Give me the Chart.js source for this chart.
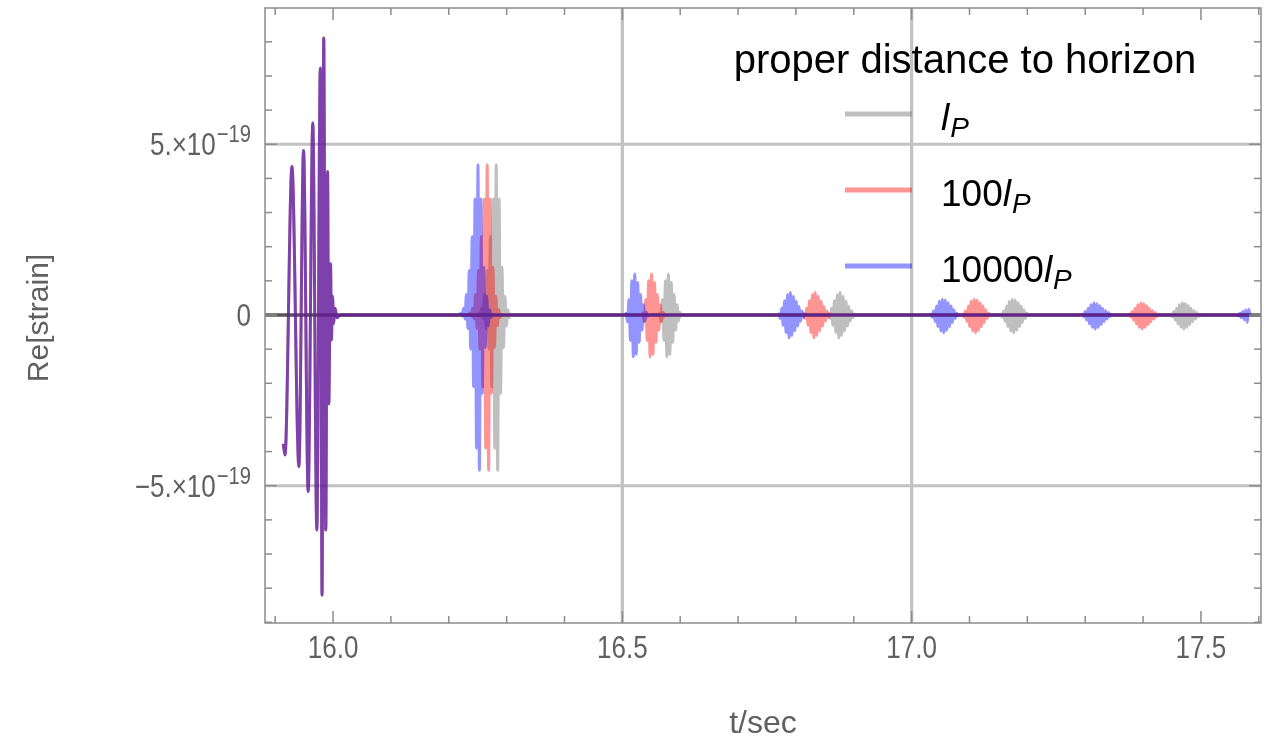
<!DOCTYPE html>
<html>
<head>
<meta charset="utf-8">
<title>Echo waveforms</title>
<script src="https://cdn.jsdelivr.net/npm/chart.js@4.4.1/dist/chart.umd.min.js"></script>
<style>
  html, body { margin: 0; padding: 0; background: #fff; }
  #wrap { width: 1278px; height: 744px; }
</style>
</head>
<body>
<div id="wrap"><canvas id="chart" width="1278" height="744"></canvas></div>
<script>
// strain values are in units of 1e-19
const X_MIN = 15.8824, X_MAX = 17.6038;
const Y_MIN = -9.02, Y_MAX = 8.99;

// merger + ringdown, identical for all three horizon distances
const mergerTimes = [15.914, 15.917, 15.929, 15.941, 15.949, 15.957, 15.965, 15.972, 15.978, 15.981,
  15.9839, 15.9874, 15.9905, 15.9926, 15.9957, 15.9971, 15.9991, 16.0009, 16.0035, 16.0069, 16.0121];
const mergerStrain = [-3.77, -4.1, 4.35, -4.44, 4.82, -5.17, 5.62, -6.3, 7.23, -8.2,
  8.11, -6.3, 4.2, -2.6, 1.5, -0.73, 0.55, -0.25, 0.2, -0.08, 0];

// echo samples, one every SAMPLE_DT seconds, starting echoShapeFirst[i] samples before the peak
const SAMPLE_DT = 0.0025;
const echoShapeFirst = [-12, -5, -7, -8, -8, -7];
const echoShape1 = [0.05, -0.03, 0.2, -0.12, 0.6, -0.4, 1.3, -1.0, 2.3, -2.1, 3.4, -3.9,
  4.4, -4.55, 3.4, -2.3, 1.4, -0.95, 0.55, -0.32, 0.15, -0.07, 0.02];
const echoShape2 = [0.05, -0.2, 0.45, -0.75, 1.0, -1.22, 1.2, -1.15, 0.95, -0.8, 0.6, -0.45,
  0.3, -0.18, 0.08, -0.03];
const echoShape3 = [0.03, -0.1, 0.2, -0.3, 0.42, -0.52, 0.6, -0.67, 0.66, -0.6, 0.55, -0.46,
  0.4, -0.32, 0.25, -0.18, 0.12, -0.07, 0.03];
const echoShape4 = [0.02, -0.06, 0.12, -0.19, 0.26, -0.34, 0.4, -0.47, 0.46, -0.52, 0.44, -0.45,
  0.36, -0.34, 0.26, -0.22, 0.15, -0.1, 0.05, -0.02];
const echoShape5 = [0.02, -0.05, 0.1, -0.15, 0.2, -0.26, 0.3, -0.36, 0.35, -0.41, 0.33, -0.36,
  0.27, -0.28, 0.2, -0.2, 0.13, -0.12, 0.07, -0.05, 0.02];
const echoShape6 = [0.01, -0.03, 0.05, -0.08, 0.1, -0.14, 0.15, -0.22, 0.17];
const echoShapes = [echoShape1, echoShape2, echoShape3, echoShape4, echoShape5, echoShape6];

// echo peak times (s) per horizon distance
const echoPeaksGrey = [16.282, 16.577, 16.874, 17.174, 17.468];
const echoPeaksRed = [16.2664, 16.548, 16.831, 17.108, 17.396];
const echoPeaksBlue = [16.2505, 16.519, 16.788, 17.053, 17.315, 17.58];
const END_T = 17.5825;

// axes
const xMajorTicks = [16.0, 16.5, 17.0, 17.5];
const xTickLabels = ['16.0', '16.5', '17.0', '17.5'];
const xMinorTicks = [15.9, 16.1, 16.2, 16.3, 16.4, 16.6, 16.7, 16.8, 16.9, 17.1, 17.2, 17.3, 17.4, 17.6];
const yMajorTicks = [5, 0, -5];
const yTickMantissa = ['5.', '0', '\u22125.'];
const Y_EXPONENT = '\u221219';
const yMinorTicks = [-9, -8, -7, -6, -4, -3, -2, -1, 1, 2, 3, 4, 6, 7, 8];
const xGridLines = [16.5, 17.0];
const yGridLines = [-5, 5];

// legend
const LEGEND_TITLE = 'proper distance to horizon';
const legendPrefixes = ['', '100', '10000'];
const seriesColors = ['rgba(128,128,128,0.5)', 'rgba(255,0,0,0.42)', 'rgba(0,0,255,0.42)'];

const FONT = '"Liberation Sans", Arial, sans-serif';
const TICK_FONT = '31px ' + FONT;
const EXP_FONT = '24px ' + FONT;
const SQUEEZE = 0.84;   // tick labels are set a little narrow

function buildSeries(peaks) {
  const pts = mergerTimes.map((t, i) => ({ x: t, y: mergerStrain[i] }));
  peaks.forEach((peak, e) => {
    const first = echoShapeFirst[e];
    const shape = echoShapes[e];
    pts.push({ x: peak + (first - 1) * SAMPLE_DT, y: 0 });
    shape.forEach((v, j) => pts.push({ x: peak + (first + j) * SAMPLE_DT, y: v }));
    pts.push({ x: peak + (first + shape.length) * SAMPLE_DT, y: 0 });
  });
  if (pts[pts.length - 1].x < END_T) pts.push({ x: END_T, y: 0 });
  return pts;
}

function line(ctx, x1, y1, x2, y2) {
  ctx.beginPath();
  ctx.moveTo(x1, y1);
  ctx.lineTo(x2, y2);
  ctx.stroke();
}

// narrow text: x is the left edge
function narrowText(ctx, str, x, y) {
  ctx.save();
  ctx.translate(x, y);
  ctx.scale(SQUEEZE, 1);
  ctx.textAlign = 'left';
  ctx.fillText(str, 0, 0);
  ctx.restore();
}
function narrowWidth(ctx, str) {
  return ctx.measureText(str).width * SQUEEZE;
}

const frameTicks = {
  id: 'frameTicks',
  beforeDatasetsDraw(chart) {
    const { ctx, chartArea: a, scales: { x, y } } = chart;
    ctx.save();
    ctx.strokeStyle = 'rgb(194,194,194)';
    ctx.lineWidth = 3.2;
    xGridLines.forEach(v => { const px = x.getPixelForValue(v); line(ctx, px, a.top, px, a.bottom); });
    yGridLines.forEach(v => { const py = y.getPixelForValue(v); line(ctx, a.left, py, a.right, py); });
    // axis at zero strain
    ctx.strokeStyle = 'rgb(85,85,85)';
    ctx.lineWidth = 3.5;
    const y0 = y.getPixelForValue(0);
    line(ctx, a.left, y0, a.right, y0);
    ctx.restore();
  },
  afterDatasetsDraw(chart) {
    const { ctx, chartArea: a, scales: { x, y } } = chart;
    ctx.save();

    // frame and inward ticks on all four sides
    ctx.strokeStyle = 'rgb(140,140,140)';
    ctx.lineWidth = 1.5;
    ctx.strokeRect(a.left, a.top, a.right - a.left, a.bottom - a.top);
    const xt = (vals, len) => vals.forEach(v => {
      const px = x.getPixelForValue(v);
      line(ctx, px, a.bottom, px, a.bottom - len);
      line(ctx, px, a.top, px, a.top + len);
    });
    const yt = (vals, len) => vals.forEach(v => {
      const py = y.getPixelForValue(v);
      line(ctx, a.left, py, a.left + len, py);
      line(ctx, a.right, py, a.right - len, py);
    });
    xt(xMajorTicks, 12); xt(xMinorTicks, 7);
    yt(yMajorTicks, 12); yt(yMinorTicks, 7);

    // tick labels
    ctx.fillStyle = 'rgb(96,96,96)';
    ctx.textBaseline = 'alphabetic';
    ctx.font = TICK_FONT;
    xMajorTicks.forEach((v, i) => {
      const w = narrowWidth(ctx, xTickLabels[i]);
      narrowText(ctx, xTickLabels[i], x.getPixelForValue(v) - w / 2, a.bottom + 35);
    });

    const right = 251;
    yMajorTicks.forEach((v, i) => {
      const base = y.getPixelForValue(v) + 11;
      const mant = yTickMantissa[i];
      ctx.font = TICK_FONT;
      if (v === 0) {
        narrowText(ctx, mant, right - narrowWidth(ctx, mant), base);
        return;
      }
      const head = mant + '\u00d710';
      const wH = narrowWidth(ctx, head);
      ctx.font = EXP_FONT;
      const wE = narrowWidth(ctx, Y_EXPONENT);
      let cx = right - (wH + 1 + wE);
      ctx.font = TICK_FONT;
      narrowText(ctx, head, cx, base);
      cx += wH + 1;
      ctx.font = EXP_FONT;
      narrowText(ctx, Y_EXPONENT, cx, base - 13);
    });

    // axis titles
    ctx.font = '32px ' + FONT;
    ctx.textAlign = 'center';
    ctx.fillText('t/sec', (a.left + a.right) / 2, 733);
    ctx.save();
    ctx.font = '30px ' + FONT;
    ctx.translate(48, 318);
    ctx.rotate(-Math.PI / 2);
    ctx.fillText('Re[strain]', 0, 0);
    ctx.restore();

    // legend
    ctx.fillStyle = '#000';
    ctx.font = '40px ' + FONT;
    ctx.textAlign = 'center';
    ctx.fillText(LEGEND_TITLE, 965, 73);
    ctx.textAlign = 'left';
    const rowY = [114, 190, 266];
    legendPrefixes.forEach((pre, i) => {
      ctx.strokeStyle = seriesColors[i];
      ctx.lineWidth = 5;
      line(ctx, 845, rowY[i], 912, rowY[i]);
      const base = rowY[i] + 16;
      let cx = 941;
      ctx.font = '37px ' + FONT;
      if (pre) { ctx.fillText(pre, cx, base); cx += ctx.measureText(pre).width; }
      ctx.font = 'italic 37px ' + FONT;
      ctx.fillText('l', cx, base); cx += ctx.measureText('l').width + 1;
      ctx.font = 'italic 28px ' + FONT;
      ctx.fillText('P', cx, base + 7);
    });
    ctx.restore();
  }
};

const labels = ['lP', '100lP', '10000lP'];
const peaks = [echoPeaksGrey, echoPeaksRed, echoPeaksBlue];

new Chart(document.getElementById('chart'), {
  type: 'line',
  data: {
    datasets: peaks.map((p, i) => ({
      label: labels[i],
      data: buildSeries(p),
      borderColor: seriesColors[i],
      borderWidth: 3,
      fill: false,
      pointRadius: 0,
      cubicInterpolationMode: 'monotone',
      order: 3 - i
    }))
  },
  options: {
    responsive: false,
    animation: false,
    events: [],
    layout: { padding: { left: 265, right: 17, top: 8, bottom: 121 } },
    scales: {
      x: { type: 'linear', min: X_MIN, max: X_MAX, display: false },
      y: { type: 'linear', min: Y_MIN, max: Y_MAX, display: false }
    },
    plugins: { legend: { display: false }, tooltip: { enabled: false } }
  },
  plugins: [frameTicks]
});
</script>
</body>
</html>
